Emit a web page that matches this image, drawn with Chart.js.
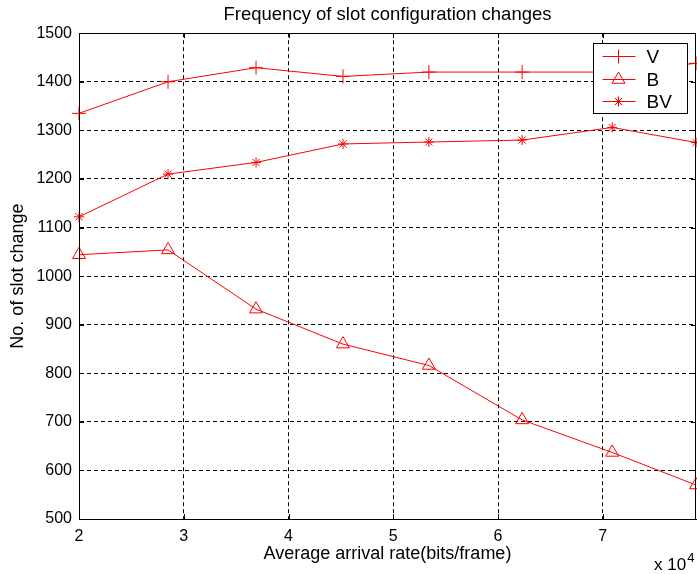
<!DOCTYPE html>
<html><head><meta charset="utf-8">
<script src="https://cdn.jsdelivr.net/npm/chart.js@4/dist/chart.umd.min.js"></script>
<style>html,body{margin:0;padding:0;background:#fff;}</style>
</head><body>
<canvas id="c" width="697" height="574"></canvas>
<script>
// ---- data ----
const xValues   = [2, 2.85, 3.69, 4.52, 5.34, 6.23, 7.09, 7.89];
const seriesV   = [1335, 1400, 1429, 1411, 1420, 1420, 1420, 1438];
const seriesB   = [1044, 1054, 932, 860, 816, 704, 637, 570];
const seriesBV  = [1122, 1210, 1234, 1272, 1276, 1280, 1306, 1275];
const seriesLabels = ['V', 'B', 'BV'];
const xTicks = [2, 3, 4, 5, 6, 7];
const yTicks = [500, 600, 700, 800, 900, 1000, 1100, 1200, 1300, 1400, 1500];
const titleText = 'Frequency of slot configuration changes';
const xTitle = 'Average arrival rate(bits/frame)';
const yTitle = 'No. of slot change';
const xMultiplier = 'x 10';
const xExponent = '4';

const FONT = '"Liberation Sans", Arial, Helvetica, sans-serif';
const RED = '#ff0000';

function pts(ys) { return xValues.map((x, i) => ({ x: x, y: ys[i] })); }

const styles = [
  { pointStyle: 'cross', pointRadius: 7 },
  { pointStyle: 'triangle', pointRadius: 7.5 },
  { pointStyle: 'star', pointRadius: 5 }
];
const allSeries = [seriesV, seriesB, seriesBV];

const datasets = allSeries.map((s, i) => ({
  label: seriesLabels[i],
  data: pts(s),
  borderColor: RED,
  backgroundColor: 'rgba(0,0,0,0)',
  borderWidth: 1,
  pointStyle: styles[i].pointStyle,
  pointRadius: styles[i].pointRadius,
  pointHoverRadius: styles[i].pointRadius,
  pointBorderColor: RED,
  pointBackgroundColor: 'rgba(0,0,0,0)',
  pointBorderWidth: 1,
  tension: 0,
  fill: false,
  clip: false
}));

const frame = {
  id: 'frame',
  afterDatasetsDraw(chart) {
    const ctx = chart.ctx, ca = chart.chartArea;
    const xs = chart.scales.x, ys = chart.scales.y;
    ctx.save();
    ctx.strokeStyle = '#000';
    ctx.lineWidth = 1;
    ctx.setLineDash([]);
    // box
    ctx.strokeRect(Math.round(ca.left) + 0.5, Math.round(ca.top) + 0.5,
                   Math.round(ca.right - ca.left) - 1, Math.round(ca.bottom - ca.top));
    // inward ticks
    const tl = 5;
    ctx.beginPath();
    xs.ticks.forEach(t => {
      const px = Math.round(xs.getPixelForValue(t.value)) + 0.5;
      ctx.moveTo(px, ca.bottom); ctx.lineTo(px, ca.bottom - tl);
      ctx.moveTo(px, ca.top); ctx.lineTo(px, ca.top + tl);
    });
    ys.ticks.forEach(t => {
      const py = Math.round(ys.getPixelForValue(t.value)) + 0.5;
      ctx.moveTo(ca.left, py); ctx.lineTo(ca.left + tl, py);
      ctx.moveTo(ca.right, py); ctx.lineTo(ca.right - tl, py);
    });
    ctx.stroke();

    // legend
    const lw = 94, lh = 70;
    const lx = Math.round(ca.right - 9 - lw) + 0.5, ly = Math.round(ca.top + 10) + 0.5;
    ctx.fillStyle = '#fff';
    ctx.fillRect(lx, ly, lw, lh);
    ctx.strokeStyle = '#000';
    ctx.strokeRect(lx, ly, lw, lh);
    const rows = [12, 35, 57];
    chart.data.datasets.forEach((ds, i) => {
      const y = Math.round(ly + rows[i]) + 0.5;
      ctx.strokeStyle = ds.borderColor;
      ctx.lineWidth = 1;
      ctx.beginPath();
      ctx.moveTo(lx + 9, y); ctx.lineTo(lx + 42, y); ctx.stroke();
      if (Chart.helpers && Chart.helpers.drawPoint) {
        ctx.fillStyle = 'rgba(0,0,0,0)';
        Chart.helpers.drawPoint(ctx, { pointStyle: ds.pointStyle, rotation: 0,
          radius: ds.pointRadius, borderWidth: 1 }, lx + 25, y);
      }
      ctx.fillStyle = '#000';
      ctx.font = '19px ' + FONT;
      ctx.textAlign = 'left';
      ctx.textBaseline = 'middle';
      ctx.fillText(ds.label, lx + 53, y + 1);
    });

    // x 10^4 multiplier
    ctx.fillStyle = '#000';
    ctx.textBaseline = 'alphabetic';
    ctx.textAlign = 'left';
    ctx.font = '17px ' + FONT;
    const bx = ca.right - 42, by = ca.bottom + 51;
    ctx.fillText(xMultiplier, bx, by);
    const w = ctx.measureText(xMultiplier).width;
    ctx.font = '13px ' + FONT;
    ctx.fillText(xExponent, bx + w + 1, by - 8);
    ctx.restore();
  }
};

const gridCommon = { color: '#000', lineWidth: 1, drawTicks: false };
const borderCommon = { display: true, color: '#000', width: 1, dash: [4, 3] };

new Chart(document.getElementById('c'), {
  type: 'line',
  data: { datasets: datasets },
  options: {
    responsive: false,
    devicePixelRatio: 1,
    animation: false,
    events: [],
    layout: { autoPadding: false, padding: { left: 0, right: 1, top: 0, bottom: 0 } },
    plugins: {
      legend: { display: false },
      tooltip: { enabled: false },
      title: {
        display: true, text: titleText, fullSize: false, color: '#000',
        font: { family: FONT, size: 18.5, weight: 'normal' },
        padding: { top: 4, bottom: 7 }
      }
    },
    scales: {
      x: {
        type: 'linear', min: xValues[0], max: xValues[xValues.length - 1],
        afterBuildTicks: s => { s.ticks = xTicks.map(v => ({ value: v })); },
        afterFit: s => { s.height = 55; s.paddingLeft = 0; s.paddingRight = 0; },
        grid: gridCommon, border: borderCommon,
        ticks: { color: '#000', font: { family: FONT, size: 16 }, padding: 8,
                 maxRotation: 0, autoSkip: false, callback: v => String(v) },
        title: { display: true, text: xTitle, color: '#000',
                 font: { family: FONT, size: 18 }, padding: { top: 2, bottom: 9 } }
      },
      y: {
        type: 'linear', min: yTicks[0], max: yTicks[yTicks.length - 1],
        afterBuildTicks: s => { s.ticks = yTicks.map(v => ({ value: v })); },
        afterFit: s => { s.width = 79; },
        grid: gridCommon, border: borderCommon,
        ticks: { color: '#000', font: { family: FONT, size: 16 }, padding: 7,
                 callback: v => String(v) },
        title: { display: true, text: yTitle, color: '#000',
                 font: { family: FONT, size: 18 }, padding: { top: 7, bottom: 0 } }
      }
    }
  },
  plugins: [frame]
});
</script>
</body></html>
